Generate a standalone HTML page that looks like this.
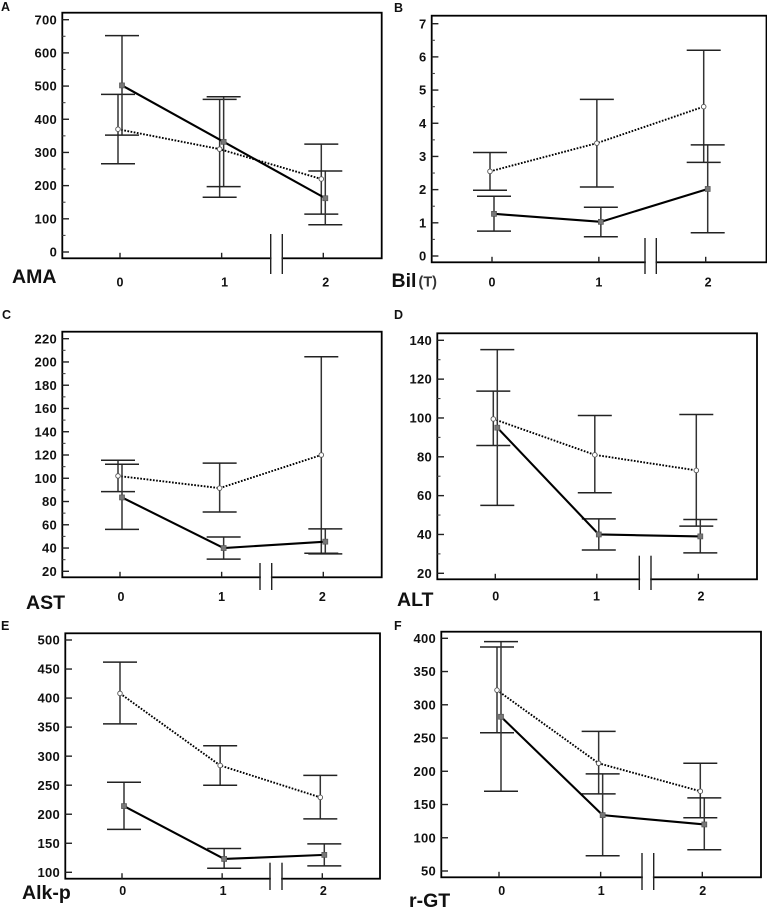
<!DOCTYPE html>
<html lang="en">
<head>
<meta charset="utf-8">
<title>Liver function panels</title>
<style>
html,body{margin:0;padding:0;background:#fff;}
body{width:767px;height:908px;overflow:hidden;}
svg{display:block;font-family:"Liberation Sans",sans-serif;filter:blur(0.3px);}
</style>
</head>
<body>
<svg id="figure" width="767" height="908" viewBox="0 0 767 908" xmlns="http://www.w3.org/2000/svg"></svg>
<script>
const categories = ['0', '1', '2'];

const amaTicks = [0, 100, 200, 300, 400, 500, 600, 700];
const amaDottedMean = [370, 310, 220];
const amaDottedHigh = [475, 460, 325];
const amaDottedLow = [266, 165, 114];
const amaSolidMean = [502, 332, 162];
const amaSolidHigh = [652, 468, 244];
const amaSolidLow = [352, 197, 82];

const bilTicks = [0, 1, 2, 3, 4, 5, 6, 7];
const bilDottedMean = [2.55, 3.4, 4.5];
const bilDottedHigh = [3.12, 4.72, 6.2];
const bilDottedLow = [1.98, 2.08, 2.82];
const bilSolidMean = [1.27, 1.03, 2.02];
const bilSolidHigh = [1.8, 1.47, 3.35];
const bilSolidLow = [0.75, 0.58, 0.7];

const astTicks = [20, 40, 60, 80, 100, 120, 140, 160, 180, 200, 220];
const astDottedMean = [102, 91.5, 120];
const astDottedHigh = [115.5, 113, 204.5];
const astDottedLow = [88.5, 71, 35.5];
const astSolidMean = [83.5, 40, 45.5];
const astSolidHigh = [112, 49.5, 56.5];
const astSolidLow = [56, 30.5, 35];

const altTicks = [20, 40, 60, 80, 100, 120, 140];
const altDottedMean = [99.5, 81, 73];
const altDottedHigh = [113.8, 101.3, 101.8];
const altDottedLow = [85.8, 61.5, 44.3];
const altSolidMean = [95, 40, 39];
const altSolidHigh = [135.2, 48, 47.7];
const altSolidLow = [55, 32, 30.5];

const alkTicks = [100, 150, 200, 250, 300, 350, 400, 450, 500];
const alkDottedMean = [408, 284, 229];
const alkDottedHigh = [462, 318, 267];
const alkDottedLow = [355.5, 250, 192];
const alkSolidMean = [214, 123, 130];
const alkSolidHigh = [255, 141, 149];
const alkSolidLow = [174, 107, 111];

const ggtTicks = [50, 100, 150, 200, 250, 300, 350, 400];
const ggtDottedMean = [322, 212, 170];
const ggtDottedHigh = [387, 260, 212];
const ggtDottedLow = [258, 166, 130];
const ggtSolidMean = [282, 134, 120];
const ggtSolidHigh = [395, 196, 160];
const ggtSolidLow = [170, 73, 82];

const panels = [
  {key:'ama', letter:'A', lx:1, ly:11, title:'AMA', tx:12, ty:283, suffix:'',
   frame:[62.3,12.7,381.7,258.3], yTop:19.7, yBottom:252, xFirst:120, xLast:323.3, minor:true,
   brk:[270.7,282.3,234,274], labelY:286.5, labelDx:[0,3,2.4],
   ticks:amaTicks, dMean:amaDottedMean, dHigh:amaDottedHigh, dLow:amaDottedLow, sMean:amaSolidMean, sHigh:amaSolidHigh, sLow:amaSolidLow},
  {key:'bil', letter:'B', lx:394, ly:12, title:'Bil', tx:391.5, ty:287, suffix:'(T)',
   frame:[431.7,15.7,766.5,262.3], yTop:23.7, yBottom:256, xFirst:492, xLast:705.7, minor:true,
   brk:[645,656.3,238,274], labelY:286.5, labelDx:[0,0,2.4],
   ticks:bilTicks, dMean:bilDottedMean, dHigh:bilDottedHigh, dLow:bilDottedLow, sMean:bilSolidMean, sHigh:bilSolidHigh, sLow:bilSolidLow},
  {key:'ast', letter:'C', lx:2, ly:319, title:'AST', tx:26, ty:609, suffix:'',
   frame:[62.3,331.7,381.7,577.3], yTop:338.7, yBottom:571.3, xFirst:120, xLast:323.3, minor:true,
   brk:[260,271.7,563,590], labelY:601, labelDx:[1,0,-1],
   ticks:astTicks, dMean:astDottedMean, dHigh:astDottedHigh, dLow:astDottedLow, sMean:astSolidMean, sHigh:astSolidHigh, sLow:astSolidLow},
  {key:'alt', letter:'D', lx:394, ly:319, title:'ALT', tx:397, ty:606, suffix:'',
   frame:[437.3,333.3,757,579.3], yTop:340.3, yBottom:573.3, xFirst:495.3, xLast:698.3, minor:true,
   brk:[639.3,651,555.7,590], labelY:600.5, labelDx:[0.4,-0.3,2.7],
   ticks:altTicks, dMean:altDottedMean, dHigh:altDottedHigh, dLow:altDottedLow, sMean:altSolidMean, sHigh:altSolidHigh, sLow:altSolidLow},
  {key:'alk', letter:'E', lx:1, ly:630, title:'Alk-p', tx:22, ty:899, suffix:'',
   frame:[65.3,633.3,380,878.7], yTop:640, yBottom:872.3, xFirst:122, xLast:322.3, minor:false,
   brk:[270,282,862.7,890], labelY:895, labelDx:[0.7,1,1],
   ticks:alkTicks, dMean:alkDottedMean, dHigh:alkDottedHigh, dLow:alkDottedLow, sMean:alkSolidMean, sHigh:alkSolidHigh, sLow:alkSolidLow},
  {key:'ggt', letter:'F', lx:394, ly:630, title:'r-GT', tx:409, ty:907, suffix:'',
   frame:[441.3,631.7,761,877.3], yTop:638.3, yBottom:871, xFirst:499, xLast:702.3, minor:false,
   brk:[642,653.7,853,890], labelY:895, labelDx:[2.7,0.6,0.4],
   ticks:ggtTicks, dMean:ggtDottedMean, dHigh:ggtDottedHigh, dLow:ggtDottedLow, sMean:ggtSolidMean, sHigh:ggtSolidHigh, sLow:ggtSolidLow}
];

const NS = 'http://www.w3.org/2000/svg';
const root = document.getElementById('figure');

function make(parent, tag, props, text) {
  const node = document.createElementNS(NS, tag);
  for (const k in props) node.setAttribute(k, props[k]);
  if (text !== undefined) node.textContent = text;
  parent.appendChild(node);
  return node;
}

function drawSeries(group, p, name, means, highs, lows, offset, xOf, yOf) {
  const isDotted = name === 'dotted';
  means.forEach(function (m, i) {
    const x = xOf(i) + offset;
    const bar = make(group, 'line', {x1:x, x2:x, y1:yOf(highs[i]), y2:yOf(lows[i]), stroke:'#333', 'stroke-width':1.5});
    
    
    [highs[i], lows[i]].forEach(function (v) {
      const cap = make(group, 'line', {x1:x - 17, x2:x + 17, y1:yOf(v), y2:yOf(v), stroke:'#222', 'stroke-width':1.5});
      
      
    });
  });
  const pts = means.map(function (m, i) { return (xOf(i) + offset) + ',' + yOf(m); }).join(' ');
  const props = {points:pts, fill:'none', stroke:'#000', 'stroke-width':isDotted ? 1.9 : 2.1};
  if (isDotted) props['stroke-dasharray'] = '1.7 1.5';
  const line = make(group, 'polyline', props);
  
  
  means.forEach(function (m, i) {
    const x = xOf(i) + offset;
    const y = yOf(m);
    let mark;
    if (isDotted) {
      mark = make(group, 'circle', {cx:x, cy:y, r:2.3, fill:'#fff', stroke:'#555', 'stroke-width':0.9});
    } else {
      mark = make(group, 'rect', {x:x - 2.5, y:y - 2.5, width:5, height:5, fill:'#777', stroke:'#555', 'stroke-width':0.7});
    }
    
    
  });
}

panels.forEach(function (p) {
  const g = make(root, 'g', {});
  
  

  const tMin = p.ticks[0];
  const tMax = p.ticks[p.ticks.length - 1];
  const yOf = function (v) { return p.yBottom + (v - tMin) / (tMax - tMin) * (p.yTop - p.yBottom); };
  const xOf = function (i) { return p.xFirst + i / (categories.length - 1) * (p.xLast - p.xFirst); };
  const f = p.frame;

  const letter = make(g, 'text', {x:p.lx, y:p.ly, 'font-size':12.5, 'font-weight':'bold', fill:'#111'}, p.letter);
  
  

  const frame = make(g, 'rect', {x:f[0], y:f[1], width:f[2] - f[0], height:f[3] - f[1], fill:'#fff', stroke:'#000', 'stroke-width':1.8});
  
  

  p.ticks.forEach(function (t, i) {
    const y = yOf(t);
    const tick = make(g, 'line', {x1:f[0], x2:f[0] + 6.7, y1:y, y2:y, stroke:'#222', 'stroke-width':1.4});
    
    
    const label = make(g, 'text', {x:f[0] - 5.2, y:y + 4.6, 'text-anchor':'end', 'font-size':13, 'font-weight':'bold', 'letter-spacing':0.3, fill:'#111'}, String(t));
    
    
    if (p.minor && i < p.ticks.length - 1) {
      const ym = yOf((t + p.ticks[i + 1]) / 2);
      const minor = make(g, 'line', {x1:f[0], x2:f[0] + 3.2, y1:ym, y2:ym, stroke:'#444', 'stroke-width':1.1});
      
      
    }
  });

  categories.forEach(function (c, i) {
    const x = xOf(i);
    const tick = make(g, 'line', {x1:x, x2:x, y1:f[3], y2:f[3] - 5.5, stroke:'#222', 'stroke-width':1.4});
    
    
    const label = make(g, 'text', {x:x + p.labelDx[i], y:p.labelY, 'text-anchor':'middle', 'font-size':12.5, 'font-weight':'bold', fill:'#111'}, c);
    
    
  });

  const gap = make(g, 'rect', {x:p.brk[0] + 0.8, y:f[3] - 2, width:p.brk[1] - p.brk[0] - 1.6, height:4, fill:'#fff'});
  
  
  [p.brk[0], p.brk[1]].forEach(function (x) {
    const mark = make(g, 'line', {x1:x, x2:x, y1:p.brk[2], y2:p.brk[3], stroke:'#222', 'stroke-width':1.4});
    
    
  });

  drawSeries(g, p, 'dotted', p.dMean, p.dHigh, p.dLow, -2, xOf, yOf);
  drawSeries(g, p, 'solid', p.sMean, p.sHigh, p.sLow, 2, xOf, yOf);

  const title = make(g, 'text', {x:p.tx, y:p.ty, 'font-size':19.5, 'font-weight':'bold', fill:'#111'}, p.title);
  
  
  if (p.suffix) {
    const suffix = make(g, 'text', {x:p.tx + 27, y:p.ty - 0.5, 'font-size':14.5, 'font-weight':'bold', fill:'#333'}, p.suffix);
    
    
  }
});
</script>
</body>
</html>
